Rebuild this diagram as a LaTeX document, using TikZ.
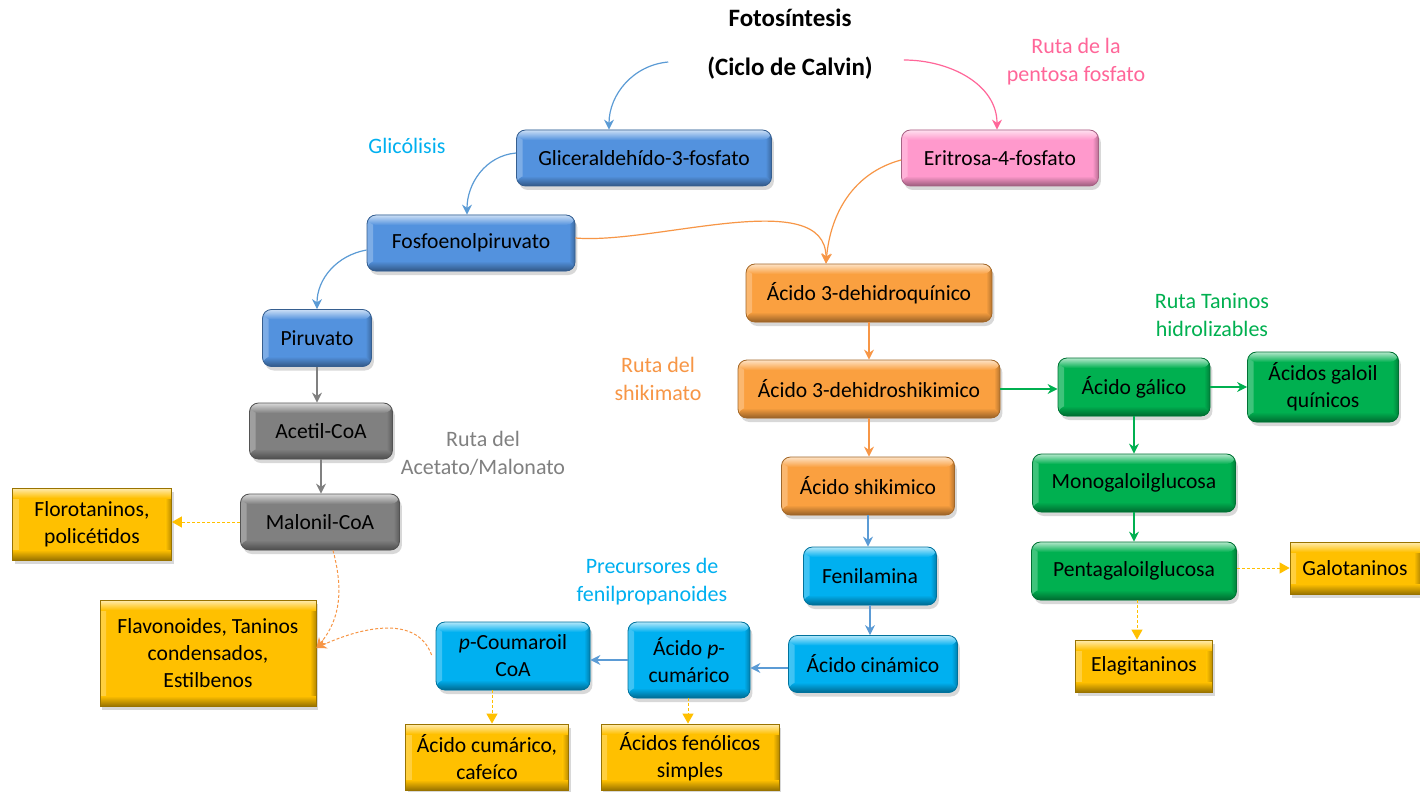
\documentclass[tikz,border=0pt]{standalone}
\usepackage{fontspec}
\setmainfont{Carlito}
\usetikzlibrary{shadows,arrows.meta,calc}
\definecolor{bluebox}{RGB}{83,146,222}
\definecolor{pinkbox}{RGB}{255,153,204}
\definecolor{orangebox}{RGB}{250,160,64}
\definecolor{graybox}{RGB}{128,128,128}
\definecolor{cyanbox}{RGB}{0,176,240}
\definecolor{greenbox}{RGB}{0,176,80}
\definecolor{yellowbox}{RGB}{255,192,0}
\definecolor{barr}{RGB}{91,155,213}
\definecolor{oarr}{RGB}{247,150,70}
\definecolor{garr}{RGB}{128,128,128}
\definecolor{grarr}{RGB}{0,176,80}
\definecolor{yarr}{RGB}{255,192,0}
\definecolor{parr}{RGB}{255,102,153}
\definecolor{cyanlbl}{RGB}{0,176,240}
\tikzset{
  boxtext/.style={font=\fontsize{10.8}{13.5}\selectfont, align=center, text=black, inner sep=0pt},
  bevel/.style={path picture={
      \shade[left color=#1!75!white, right color=#1] (path picture bounding box.south west) rectangle ([xshift=3pt]path picture bounding box.north west);
      \shade[left color=#1, right color=#1!72!black] ([xshift=-3pt]path picture bounding box.south east) rectangle (path picture bounding box.north east);
      \shade[top color=#1!30!white, bottom color=#1] ([yshift=-5pt]path picture bounding box.north west) rectangle (path picture bounding box.north east);
      \shade[top color=#1, bottom color=#1!60!black] (path picture bounding box.south west) rectangle ([yshift=5pt]path picture bounding box.south east);
  }},
  rbox/.style={boxtext, rounded corners=4.5pt, fill=#1, draw=#1!65!black, line width=0.4pt, bevel=#1,
    drop shadow={shadow xshift=1.2pt, shadow yshift=-2pt, opacity=0.3}},
  ybox/.style={boxtext, fill=yellowbox, draw=yellowbox!60!black, line width=0.4pt, bevel=yellowbox,
    drop shadow={shadow xshift=1.2pt, shadow yshift=-2pt, opacity=0.3}},
  lbl/.style={font=\fontsize{11}{14}\selectfont, align=center, text=#1},
  conn/.style={-{Stealth[length=5pt,width=5pt]}, draw=#1, line width=0.6pt},
  yconn/.style={-{Triangle[length=5pt,width=5.5pt]}, draw=yarr, line width=0.5pt, dash pattern=on 1.5pt off 1pt},
  oconn/.style={-{Stealth[length=5pt,width=5pt]}, draw=oarr, line width=0.5pt, dash pattern=on 1.5pt off 1pt},
}
\begin{document}
\begin{tikzpicture}[x=0.5pt,y=-0.5pt]
\useasboundingbox (0,0) rectangle (1420,792);
\fill[white] (0,0) rectangle (1420,792);
% titles
\node[font=\bfseries\fontsize{12.5}{15}\selectfont] (foto) at (790,18) {Fotosíntesis};
\node[font=\bfseries\fontsize{12.5}{15}\selectfont] (calvin) at (790,68) {(Ciclo de Calvin)};
% labels
\node[lbl=cyanlbl] (glic) at (407,146) {Glicólisis};
\node[lbl=parr] (pent) at (1076,62) {Ruta de la\\pentosa fosfato};
\node[lbl=garr] (acemal) at (483,453) {Ruta del\\Acetato/Malonato};
\node[lbl=oarr] (shiklbl) at (658,379) {Ruta del\\shikimato};
\node[lbl=cyanlbl] (prec) at (652,582) {Precursores de\\fenilpropanoides};
\node[lbl=greenbox] (tanlbl) at (1212,315) {Ruta Taninos\\hidrolizables};
% boxes
\node[rbox=bluebox, minimum width=127.5pt, minimum height=28pt] (gli) at (644,158) {Gliceraldehído-3-fosfato};
\node[rbox=pinkbox, minimum width=98.5pt, minimum height=28pt] (eri) at (1000,158) {Eritrosa-4-fosfato};
\node[rbox=bluebox, minimum width=104pt, minimum height=28pt] (fos) at (471,243) {Fosfoenolpiruvato};
\node[rbox=bluebox, minimum width=54.5pt, minimum height=28.5pt] (pir) at (317,338) {Piruvato};
\node[rbox=graybox, minimum width=71.5pt, minimum height=28pt] (ace) at (321,431) {Acetil-CoA};
\node[rbox=graybox, minimum width=79.5pt, minimum height=28pt] (mal) at (320,522) {Malonil-CoA};
\node[ybox, minimum width=79.5pt, minimum height=36pt] (flo) at (92,524) {Florotaninos,\\policétidos};
\node[ybox, minimum width=108pt, minimum height=53pt] (fla) at (208,653) {Flavonoides, Taninos\\condensados,\\Estilbenos};
\node[rbox=orangebox, minimum width=123pt, minimum height=29pt] (dq) at (869,293) {Ácido 3-dehidroquínico};
\node[rbox=orangebox, minimum width=131pt, minimum height=29pt] (ds) at (869,389) {Ácido 3-dehidroshikimico};
\node[rbox=orangebox, minimum width=86.5pt, minimum height=29pt] (sh) at (868,486) {Ácido shikimico};
\node[rbox=cyanbox, minimum width=66.5pt, minimum height=29pt] (fen) at (870,576) {Fenilamina};
\node[rbox=cyanbox, minimum width=84.5pt, minimum height=28.5pt] (cin) at (873,664) {Ácido cinámico};
\node[rbox=cyanbox, minimum width=61pt, minimum height=38pt] (pcu) at (689,660) {Ácido \textit{p}-\\cumárico};
\node[rbox=cyanbox, minimum width=77pt, minimum height=34pt] (pco) at (513,656) {\textit{p}-Coumaroil\\CoA};
\node[ybox, minimum width=81.5pt, minimum height=33pt] (acc) at (487,757) {Ácido cumárico,\\cafeíco};
\node[ybox, minimum width=89pt, minimum height=33pt] (afs) at (690,757) {Ácidos fenólicos\\simples};
\node[rbox=greenbox, minimum width=76pt, minimum height=29pt] (gal) at (1134,387) {Ácido gálico};
\node[rbox=greenbox, minimum width=75.5pt, minimum height=35pt] (gq) at (1323,387) {Ácidos galoil\\quínicos};
\node[rbox=greenbox, minimum width=101.5pt, minimum height=29pt] (mono) at (1134,483) {Monogaloilglucosa};
\node[rbox=greenbox, minimum width=102.5pt, minimum height=29pt] (penta) at (1134,571) {Pentagaloilglucosa};
\node[ybox, minimum width=65pt, minimum height=26pt] (galo) at (1355,568) {Galotaninos};
\node[ybox, minimum width=68.5pt, minimum height=26pt] (ela) at (1144,666) {Elagitaninos};
% curved connectors
\draw[conn=barr] ([xshift=-16pt,yshift=3pt]calvin.west) to[out=185,in=90] ([xshift=-17.5pt]gli.north);
\draw[conn=parr] ([xshift=12pt,yshift=4pt]calvin.east) to[out=0,in=90] ([xshift=-1.5pt]eri.north);
\draw[conn=barr] ([yshift=2.5pt]gli.west) to[out=185,in=90] ([xshift=-2pt]fos.north);
\draw[conn=barr] ([yshift=-3.5pt]fos.west) to[out=190,in=90] (pir.north);
\draw[conn=oarr] ([yshift=2.5pt]fos.east) to[out=-5,in=90,looseness=0.8] ([xshift=-21.5pt]dq.north);
\draw[conn=oarr] ([yshift=-1pt]eri.west) to[out=195,in=85] ([xshift=-21.5pt]dq.north);
\draw[oconn] ([xshift=6.5pt]mal.south) to[out=-75,in=50] ([yshift=2.5pt]fla.east);
\draw[oconn] ([xshift=-2pt,yshift=0.5pt]pco.west) to[out=110,in=25] ([yshift=2.5pt]fla.east);
% straight connectors
\draw[conn=garr] (pir.south) -- (pir.south |- ace.north);
\draw[conn=garr] (ace.south) -- (ace.south |- mal.north);
\draw[yconn] (mal.west) -- (mal.west -| flo.east);
\draw[conn=oarr] (dq.south) -- (dq.south |- ds.north);
\draw[conn=oarr] (ds.south) -- (ds.south |- sh.north);
\draw[conn=barr] (sh.south) -- (sh.south |- fen.north);
\draw[conn=barr] (fen.south) -- (fen.south |- cin.north);
\draw[conn=barr] ([yshift=-2pt]cin.west) -- ([yshift=-2pt]cin.west -| pcu.east);
\draw[conn=barr] (pcu.west) -- (pcu.west -| pco.east);
\draw[yconn] ([xshift=2.5pt]acc.north |- pco.south) -- ([xshift=2.5pt]acc.north);
\draw[yconn] ([xshift=-1pt]afs.north |- pcu.south) -- ([xshift=-1pt]afs.north);
\draw[conn=grarr] (ds.east) -- (ds.east -| gal.west);
\draw[conn=grarr] (gal.east) -- (gal.east -| gq.west);
\draw[conn=grarr] (gal.south) -- (gal.south |- mono.north);
\draw[conn=grarr] (mono.south) -- (mono.south |- penta.north);
\draw[yconn] ([yshift=1.5pt]penta.east) -- ([yshift=1.5pt]penta.east -| galo.west);
\draw[yconn] ([xshift=1.5pt]penta.south) -- ([xshift=1.5pt]penta.south |- ela.north);
\end{tikzpicture}
\end{document}
